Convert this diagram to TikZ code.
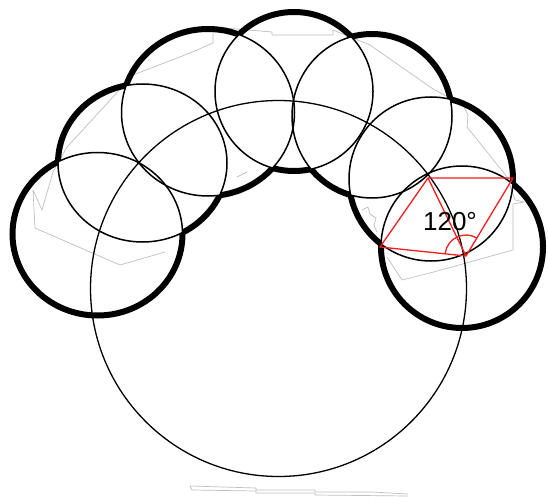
\documentclass[tikz,border=0pt]{standalone}
\usepackage{fontspec}
\setmainfont{Liberation Sans}
\definecolor{rhombred}{RGB}{240,30,30}
\newcommand\outsideof[4]{\clip (-30,-30) rectangle (580,530) (#1,#2) circle[x radius=#3,y radius=#4];}
\begin{document}
\begin{tikzpicture}[x=1pt,y=-1pt,
  thinline/.style={line width=1.5pt,black},
  boldline/.style={line width=6pt,black},
  ghost/.style={line width=0.7pt,black!25,line join=round},
  redline/.style={line width=1.3pt,rhombred,line join=round}]
\useasboundingbox (0,0) rectangle (548,497);
\fill[white] (0,0) rectangle (548,497);
% faint grey traces
\draw[ghost] (165,252) -- (120,265) -- (35,228) -- (33,190) -- (42,210) -- (53,172) -- (67,147) -- (113,97)
  -- (133,75) -- (190,53) -- (213,43) -- (213,27) -- (272,32) -- (272,35) -- (333,35) -- (333,30)
  -- (370,45) -- (433,89) -- (463,105) -- (468,115) -- (467,127) -- (507,177) -- (515,200) -- (524,202)
  -- (513,204) -- (513,250) -- (430,273) -- (402,280) -- (387,257);
\draw[ghost] (190,227) -- (217,200);
\draw[ghost] (237,177) -- (247,172);
\draw[ghost] (362,210) -- (368,207) -- (370,214) -- (376,218) -- (374,226) -- (377,232);
\draw[ghost] (190,486) -- (192,490) -- (256,491) -- (256,493) -- (315,493) -- (315,495) -- (408,496);
\draw[ghost] (190,486) -- (256,488) -- (256,490) -- (315,490) -- (315,492) -- (372,492) -- (408,494);
% big circle
\draw[line width=1.3pt] (278.5,288.5) coordinate (O) circle[radius=188];
% thin chain circles (x/y/rx/ry)
\foreach \x/\y/\rx/\ry in {97.5/234/85/81.5, 142.5/163/84.5/79, 208/112.5/86.5/83.5, 294/91.5/79/79.5,
    372/116/80/82, 431/179/82/82, 462/247/81/81}
  \draw[thinline] (\x,\y) circle[x radius=\rx,y radius=\ry];
% thick union outline
\begin{scope}[even odd rule]\outsideof{142.5}{163}{84.5}{79}\outsideof{208}{112.5}{86.5}{83.5}\outsideof{294}{91.5}{79}{79.5}
  \draw[boldline] (97.5,234) circle[x radius=85,y radius=81.5];\end{scope}
\begin{scope}[even odd rule]\outsideof{97.5}{234}{85}{81.5}\outsideof{208}{112.5}{86.5}{83.5}\outsideof{294}{91.5}{79}{79.5}
  \draw[boldline] (142.5,163) circle[x radius=84.5,y radius=79];\end{scope}
\begin{scope}[even odd rule]\outsideof{97.5}{234}{85}{81.5}\outsideof{142.5}{163}{84.5}{79}\outsideof{294}{91.5}{79}{79.5}\outsideof{372}{116}{80}{82}
  \draw[boldline] (208,112.5) circle[x radius=86.5,y radius=83.5];\end{scope}
\begin{scope}[even odd rule]\outsideof{142.5}{163}{84.5}{79}\outsideof{208}{112.5}{86.5}{83.5}\outsideof{372}{116}{80}{82}\outsideof{431}{179}{82}{82}
  \draw[boldline] (294,91.5) circle[x radius=79,y radius=79.5];\end{scope}
\begin{scope}[even odd rule]\outsideof{208}{112.5}{86.5}{83.5}\outsideof{294}{91.5}{79}{79.5}\outsideof{431}{179}{82}{82}\outsideof{462}{247}{81}{81}
  \draw[boldline] (372,116) circle[x radius=80,y radius=82];\end{scope}
\begin{scope}[even odd rule]\outsideof{294}{91.5}{79}{79.5}\outsideof{372}{116}{80}{82}\outsideof{462}{247}{81}{81}
  \draw[boldline] (431,179) circle[radius=82];\end{scope}
\begin{scope}[even odd rule]\outsideof{372}{116}{80}{82}\outsideof{431}{179}{82}{82}
  \draw[boldline] (462,247) circle[radius=81];\end{scope}
% red rhombus
\coordinate (A) at (428,178);
\coordinate (B) at (513,178);
\coordinate (C) at (466,256);
\coordinate (D) at (380,247);
\draw[redline] (A) -- (B) -- (C) -- (D) -- cycle;
\draw[redline] (A) -- (C);
\draw[redline] (C) ++(-172:21) arc[start angle=-172,end angle=-59,radius=21];
\node[font=\fontsize{26}{30}\selectfont,inner sep=0pt] (lbl) at (450,222) {120°};
\end{tikzpicture}
\end{document}
